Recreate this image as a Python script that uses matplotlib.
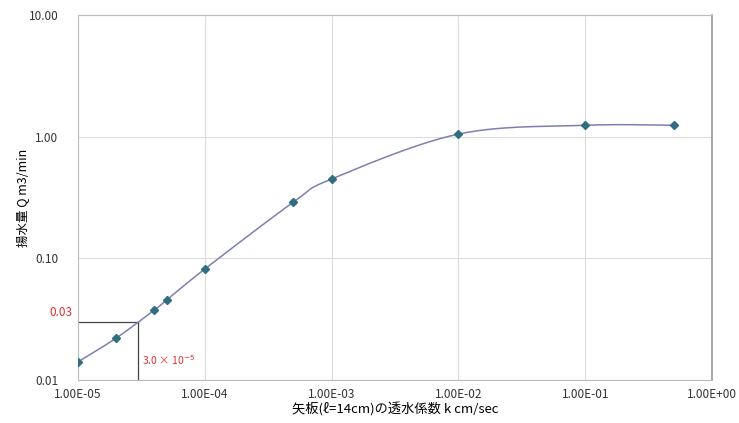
import numpy as np
import matplotlib.pyplot as plt

plt.rcParams['font.family'] = ['Noto Sans CJK JP', 'DejaVu Sans']

# data: permeability k (cm/sec) vs discharge Q (m3/min)
k_values = [1e-5, 2e-5, 4e-5, 5e-5, 1e-4, 5e-4, 1e-3, 1e-2, 1e-1, 5e-1]
q_values = [0.0141, 0.0221, 0.0376, 0.0454, 0.0817, 0.290, 0.449, 1.05, 1.24, 1.24]

ref_k = 3.0e-5
ref_q = 0.03

x_ticks = [1e-5, 1e-4, 1e-3, 1e-2, 1e-1, 1e0]
x_labels = ["1.00E-05", "1.00E-04", "1.00E-03", "1.00E-02", "1.00E-01", "1.00E+00"]
y_ticks = [0.01, 0.1, 1, 10]
y_labels = ["0.01", "0.10", "1.00", "10.00"]


def smooth_log(xs, ys, n=30):
    """Catmull-Rom style smoothing in log-log space (like Excel smoothed lines)."""
    lx, ly = np.log10(xs), np.log10(ys)
    px = np.concatenate([[lx[0]], lx, [lx[-1]]])
    py = np.concatenate([[ly[0]], ly, [ly[-1]]])
    out_x, out_y = [], []
    t = np.linspace(0, 1, n)
    for i in range(1, len(px) - 2):
        p0, p1, p2, p3 = (np.array([px[j], py[j]]) for j in range(i - 1, i + 3))
        c1 = p1 + (p2 - p0) / 6
        c2 = p2 - (p3 - p1) / 6
        pts = ((1 - t)[:, None] ** 3 * p1 + 3 * ((1 - t) ** 2 * t)[:, None] * c1
               + 3 * ((1 - t) * t ** 2)[:, None] * c2 + (t ** 3)[:, None] * p2)
        out_x.extend(pts[:, 0]); out_y.extend(pts[:, 1])
    return 10 ** np.array(out_x), 10 ** np.array(out_y)


fig = plt.figure(figsize=(7.39, 4.23), dpi=100)
ax = fig.add_axes([78 / 739, 1 - 380 / 423, (712 - 78) / 739, (380 - 15) / 423])

ax.set_xscale("log"); ax.set_yscale("log")
ax.set_xlim(1e-5, 1e0); ax.set_ylim(0.01, 10)

sx, sy = smooth_log(k_values, q_values)
ax.plot(sx, sy, color="#7d7fb3", linewidth=1.1, zorder=3)
ax.plot(k_values, q_values, linestyle="none", marker="D", markersize=4.5,
        color="#2f6f80", zorder=4)

# reading lines for k = 3.0E-5
ax.plot([1e-5, ref_k], [ref_q, ref_q], color="#444444", linewidth=0.9, zorder=2)
ax.plot([ref_k, ref_k], [ref_q, 0.01], color="#444444", linewidth=0.9, zorder=2)
ax.annotate("0.03", xy=(1e-5, ref_q), xytext=(-4, 2), textcoords="offset points",
            color="#e03030", fontsize=8.5, ha="right", va="bottom")
ax.text(ref_k * 1.06, 0.0146, "3.0 × 10$^{-5}$", color="#e03030", fontsize=7.5,
        ha="left", va="center")

ax.set_xticks(x_ticks); ax.set_xticklabels(x_labels)
ax.set_yticks(y_ticks); ax.set_yticklabels(y_labels)
ax.minorticks_off()
ax.tick_params(labelsize=8.5, length=0)
ax.tick_params(axis="y", pad=14)
ax.tick_params(axis="x", pad=6)
for lbl in ax.get_xticklabels() + ax.get_yticklabels():
    lbl.set_color("#333333")
ax.grid(True, color="#dddddd", linewidth=0.8)
for name, sp in ax.spines.items():
    sp.set_color("#bbbbbb")
    sp.set_linewidth(0.8)
ax.spines["right"].set_color("#999999")
ax.spines["right"].set_linewidth(1.2)

ax.set_xlabel("矢板(ℓ=14cm)の透水係数 k cm/sec", fontsize=9.5, labelpad=1)
ax.set_ylabel("揚水量 Q m3/min", fontsize=9, labelpad=0)

fig.savefig("out.png", dpi=100)
